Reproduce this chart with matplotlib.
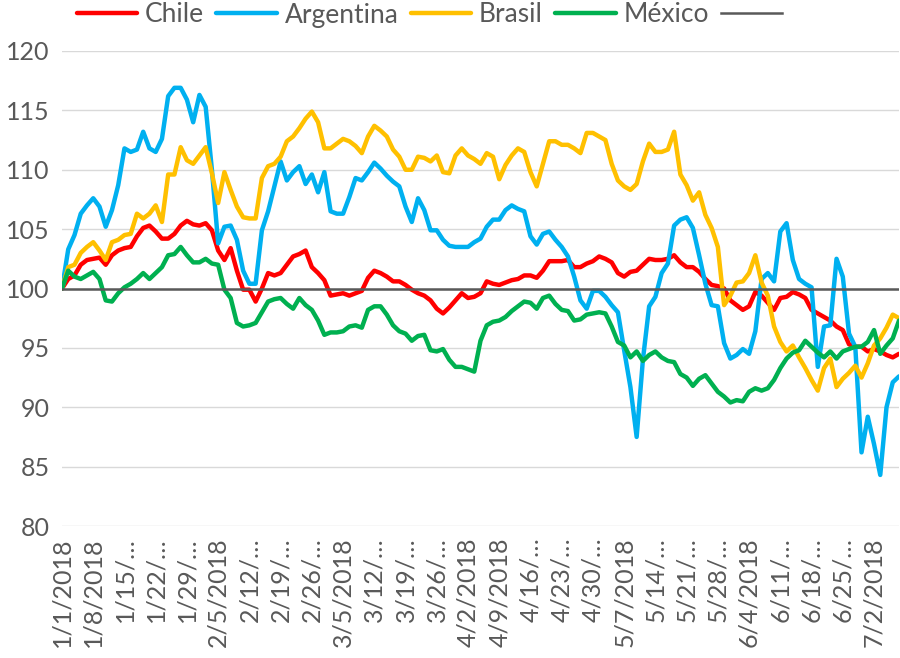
import numpy as np
import pandas as pd
import matplotlib
matplotlib.use('Agg')
import matplotlib.pyplot as plt

plt.rcParams['font.family'] = ['Lato', 'DejaVu Sans']

# business days 1/1/2018 .. 7/6/2018 (category axis)
dates = pd.bdate_range('2018-01-01', '2018-07-06')

chile = [100.0, 100.8, 101.1, 102.0, 102.4, 102.5, 102.6, 102.0, 102.8, 103.2,
         103.4, 103.5, 104.4, 105.1, 105.3, 104.8, 104.2, 104.2, 104.6, 105.3,
         105.7, 105.4, 105.3, 105.5, 104.9, 103.2, 102.4, 103.4, 101.5, 99.9,
         99.9, 98.9, 100.0, 101.3, 101.1, 101.3, 102.0, 102.7, 102.9, 103.2,
         101.8, 101.3, 100.7, 99.4, 99.5, 99.6, 99.4, 99.6, 99.8, 100.9,
         101.5, 101.3, 101.0, 100.6, 100.6, 100.3, 99.9, 99.6, 99.4, 99.0,
         98.3, 97.9, 98.4, 99.0, 99.6, 99.2, 99.3, 99.6, 100.6, 100.4,
         100.3, 100.5, 100.7, 100.8, 101.1, 101.1, 100.9, 101.5, 102.3, 102.3,
         102.3, 102.4, 101.8, 101.8, 102.1, 102.3, 102.7, 102.5, 102.2, 101.3,
         101.0, 101.4, 101.5, 102.0, 102.5, 102.4, 102.4, 102.5, 102.8, 102.2,
         101.8, 101.8, 101.4, 100.8, 100.3, 100.2, 100.0, 99.0, 98.6, 98.2,
         98.5, 99.7, 99.4, 98.8, 98.2, 99.2, 99.3, 99.7, 99.5, 99.2,
         98.2, 97.9, 97.6, 97.3, 96.8, 96.5, 95.3, 95.1, 95.1, 94.7,
         94.9, 94.7, 94.4, 94.2, 94.5]

argentina = [100.0, 103.3, 104.5, 106.3, 107.0, 107.6, 106.9, 105.2, 106.6, 108.7,
             111.8, 111.5, 111.7, 113.2, 111.8, 111.5, 112.6, 116.2, 116.9, 116.9,
             115.9, 114.0, 116.3, 115.3, 110.0, 103.8, 105.2, 105.3, 104.1, 101.5,
             100.4, 100.4, 104.9, 106.5, 108.6, 110.7, 109.1, 109.8, 110.3, 108.8,
             109.6, 108.1, 109.8, 106.5, 106.3, 106.3, 107.7, 109.3, 109.1, 109.8,
             110.6, 110.1, 109.5, 109.0, 108.6, 106.9, 105.6, 107.6, 106.6, 104.9,
             104.9, 104.1, 103.6, 103.5, 103.5, 103.5, 103.9, 104.2, 105.2, 105.8,
             105.8, 106.6, 107.0, 106.7, 106.5, 104.4, 103.7, 104.6, 104.8, 104.1,
             103.5, 102.7, 101.0, 99.0, 98.3, 99.8, 99.8, 99.3, 98.6, 98.0,
             94.8, 91.7, 87.5, 94.0, 98.5, 99.3, 101.3, 102.1, 105.3, 105.8,
             106.0, 105.1, 102.8, 100.4, 98.6, 98.5, 95.4, 94.1, 94.4, 94.9,
             94.5, 96.4, 100.8, 101.3, 100.6, 104.8, 105.5, 102.4, 100.8, 100.4,
             100.1, 93.4, 96.8, 96.9, 102.5, 101.0, 96.2, 95.1, 86.2, 89.2,
             86.9, 84.3, 90.0, 92.1, 92.6]

brasil = [100.0, 101.8, 102.0, 103.0, 103.5, 103.9, 103.2, 102.4, 103.9, 104.1,
          104.5, 104.6, 106.3, 105.9, 106.3, 107.0, 105.6, 109.6, 109.6, 111.9,
          110.8, 110.5, 111.2, 111.9, 109.7, 107.2, 109.8, 108.3, 106.9, 106.0,
          105.9, 105.9, 109.3, 110.3, 110.5, 111.1, 112.4, 112.8, 113.5, 114.3,
          114.9, 114.0, 111.8, 111.8, 112.2, 112.6, 112.4, 112.0, 111.4, 112.8,
          113.7, 113.3, 112.8, 111.7, 111.1, 110.0, 110.0, 111.1, 111.0, 110.7,
          111.2, 109.8, 109.7, 111.2, 111.8, 111.2, 110.9, 110.5, 111.4, 111.1,
          109.2, 110.4, 111.2, 111.8, 111.5, 109.8, 108.6, 110.5, 112.4, 112.4,
          112.1, 112.1, 111.8, 111.4, 113.1, 113.1, 112.8, 112.5, 110.5, 109.1,
          108.6, 108.3, 108.8, 110.7, 112.2, 111.5, 111.5, 111.7, 113.2, 109.6,
          108.7, 107.4, 108.1, 106.2, 105.1, 103.5, 98.6, 99.4, 100.5, 100.6,
          101.3, 102.8, 100.5, 99.4, 96.8, 95.5, 94.7, 95.2, 94.2, 93.3,
          92.3, 91.4, 93.3, 94.1, 91.7, 92.4, 92.9, 93.5, 92.5, 93.7,
          95.2, 95.8, 96.7, 97.8, 97.5]

mexico = [100.0, 101.5, 101.0, 100.8, 101.1, 101.4, 100.8, 99.0, 98.9, 99.6,
          100.1, 100.4, 100.8, 101.3, 100.8, 101.3, 101.8, 102.8, 102.9, 103.5,
          102.8, 102.2, 102.2, 102.5, 102.1, 102.0, 99.9, 99.2, 97.1, 96.8,
          96.9, 97.1, 98.0, 98.9, 99.1, 99.2, 98.7, 98.3, 99.2, 98.6,
          98.2, 97.3, 96.1, 96.3, 96.3, 96.4, 96.8, 96.9, 96.7, 98.2,
          98.5, 98.5, 97.8, 96.9, 96.4, 96.2, 95.6, 96.0, 96.1, 94.8,
          94.7, 94.9, 94.0, 93.4, 93.4, 93.2, 93.0, 95.6, 96.9, 97.2,
          97.3, 97.6, 98.1, 98.5, 98.9, 98.8, 98.3, 99.2, 99.4, 98.7,
          98.2, 98.1, 97.3, 97.4, 97.8, 97.9, 98.0, 97.9, 96.8, 95.5,
          95.2, 94.2, 94.7, 93.9, 94.4, 94.7, 94.2, 93.9, 93.8, 92.8,
          92.5, 91.8, 92.4, 92.7, 92.0, 91.3, 90.9, 90.4, 90.6, 90.5,
          91.3, 91.6, 91.4, 91.6, 92.3, 93.3, 94.1, 94.6, 94.8, 95.6,
          95.1, 94.6, 94.2, 94.7, 94.1, 94.7, 94.9, 95.1, 95.1, 95.5,
          96.5, 94.5, 95.2, 95.8, 97.3]

base = [100.0] * len(dates)

tick_labels = ['1/1/2018', '1/8/2018', '1/15/…', '1/22/…', '1/29/…', '2/5/2018',
               '2/12/…', '2/19/…', '2/26/…', '3/5/2018', '3/12/…', '3/19/…',
               '3/26/…', '4/2/2018', '4/9/2018', '4/16/…', '4/23/…', '4/30/…',
               '5/7/2018', '5/14/…', '5/21/…', '5/28/…', '6/4/2018', '6/11/…',
               '6/18/…', '6/25/…', '7/2/2018']

names = ['Chile', 'Argentina', 'Brasil', 'México', '']
colors = ['#FF0000', '#00B0F0', '#FFC000', '#00B050', '#595959']
text_color = '#595959'

fig = plt.figure(figsize=(9, 6.58), dpi=100)
ax = fig.add_axes([62 / 900, 1 - 526 / 658, (899 - 62) / 900, (526 - 51) / 658])

x = np.arange(len(dates))
handles = []
for vals, c in zip([chile, argentina, brasil, mexico], colors[:4]):
    h, = ax.plot(x, vals, color=c, lw=3.2, solid_joinstyle='round', solid_capstyle='round')
    handles.append(h)
h, = ax.plot(x, base, color=colors[4], lw=1.8)
handles.append(h)

ax.set_xlim(0, len(dates) - 1)
ax.set_ylim(80, 120)
ax.set_yticks(range(80, 121, 5))
ax.set_xticks(x[::5])
ax.set_xticklabels(tick_labels, rotation=90)
ax.grid(axis='y', color='#D9D9D9', lw=1)
ax.set_axisbelow(True)
for s in ax.spines.values():
    s.set_visible(False)
ax.tick_params(axis='both', length=0, labelsize=18, colors=text_color)
ax.tick_params(axis='y', pad=9)
ax.tick_params(axis='x', pad=8)

fig.legend(handles, names, ncol=5, loc='center', bbox_to_anchor=(433 / 900, 1 - 15 / 658),
           frameon=False, fontsize=19, labelcolor=text_color, handlelength=2.3,
           handletextpad=0.3, columnspacing=0.45, borderaxespad=0, borderpad=0)

fig.savefig('out.png', dpi=100)
